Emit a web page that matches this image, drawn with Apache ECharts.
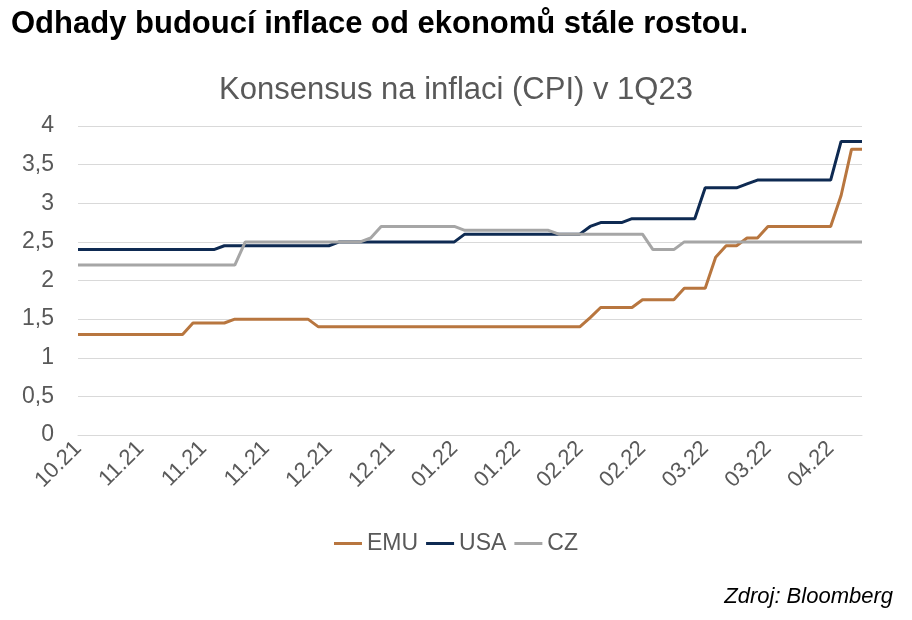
<!DOCTYPE html>
<html><head><meta charset="utf-8">
<script src="https://cdn.jsdelivr.net/npm/echarts@6/dist/echarts.min.js"></script>
<style>html,body{margin:0;padding:0;background:#fff}#c{width:912px;height:620px}</style>
</head><body><div id="c"></div>
<script>
const tickLabels = ["10.21","11.21","11.21","11.21","12.21","12.21","01.22","01.22","02.22","02.22","03.22","03.22","04.22"];
const emu = [1.3,1.3,1.3,1.3,1.3,1.3,1.3,1.3,1.3,1.3,1.3,1.45,1.45,1.45,1.45,1.5,1.5,1.5,1.5,1.5,1.5,1.5,1.5,1.4,1.4,1.4,1.4,1.4,1.4,1.4,1.4,1.4,1.4,1.4,1.4,1.4,1.4,1.4,1.4,1.4,1.4,1.4,1.4,1.4,1.4,1.4,1.4,1.4,1.4,1.52,1.65,1.65,1.65,1.65,1.75,1.75,1.75,1.75,1.9,1.9,1.9,2.3,2.45,2.45,2.55,2.55,2.7,2.7,2.7,2.7,2.7,2.7,2.7,3.1,3.7,3.7];
const usa = [2.4,2.4,2.4,2.4,2.4,2.4,2.4,2.4,2.4,2.4,2.4,2.4,2.4,2.4,2.45,2.45,2.45,2.45,2.45,2.45,2.45,2.45,2.45,2.45,2.45,2.5,2.5,2.5,2.5,2.5,2.5,2.5,2.5,2.5,2.5,2.5,2.5,2.6,2.6,2.6,2.6,2.6,2.6,2.6,2.6,2.6,2.6,2.6,2.6,2.7,2.75,2.75,2.75,2.8,2.8,2.8,2.8,2.8,2.8,2.8,3.2,3.2,3.2,3.2,3.25,3.3,3.3,3.3,3.3,3.3,3.3,3.3,3.3,3.8,3.8,3.8];
const cz = [2.2,2.2,2.2,2.2,2.2,2.2,2.2,2.2,2.2,2.2,2.2,2.2,2.2,2.2,2.2,2.2,2.5,2.5,2.5,2.5,2.5,2.5,2.5,2.5,2.5,2.5,2.5,2.5,2.55,2.7,2.7,2.7,2.7,2.7,2.7,2.7,2.7,2.65,2.65,2.65,2.65,2.65,2.65,2.65,2.65,2.65,2.6,2.6,2.6,2.6,2.6,2.6,2.6,2.6,2.6,2.4,2.4,2.4,2.5,2.5,2.5,2.5,2.5,2.5,2.5,2.5,2.5,2.5,2.5,2.5,2.5,2.5,2.5,2.5,2.5,2.5];
const catLabels = emu.map((_, i) => i % 6 === 0 ? tickLabels[i / 6] : "");
const chart = echarts.init(document.getElementById('c'));
const font = 'Liberation Sans, Arial, sans-serif';
chart.setOption({
  animation: false,
  title: [
    {text: 'Odhady budoucí inflace od ekonomů stále rostou.', left: 6, top: 4,
     textStyle: {fontFamily: font, fontSize: 31, fontWeight: 'bold', color: '#000'}},
    {text: 'Konsensus na inflaci (CPI) v 1Q23', left: 'center', top: 70,
     textStyle: {fontFamily: font, fontSize: 31, fontWeight: 'normal', color: '#595959'}},
    {text: 'Zdroj: Bloomberg', right: 14, top: 581,
     textStyle: {fontFamily: font, fontSize: 22, fontStyle: 'italic', fontWeight: 'normal', color: '#000'}}
  ],
  legend: {bottom: 60, left: 'center', itemWidth: 28, itemHeight: 3, itemGap: 8, icon: 'rect',
    textStyle: {fontFamily: font, fontSize: 23, color: '#595959'}},
  grid: {left: 78, right: 50, top: 126, bottom: 185},
  xAxis: {type: 'category', boundaryGap: false, data: emu.map((_, i) => i),
    axisLine: {lineStyle: {color: '#d9d9d9'}}, axisTick: {show: false},
    axisLabel: {interval: 0, rotate: 45, fontFamily: font, fontSize: 22, color: '#595959', margin: 10,
      formatter: (v, i) => catLabels[i]}},
  yAxis: {type: 'value', min: 0, max: 4, interval: 0.5,
    axisLabel: {fontFamily: font, fontSize: 23, color: '#595959', margin: 24,
      formatter: v => String(v).replace('.', ',')},
    splitLine: {lineStyle: {color: '#d9d9d9'}}},
  series: [
    {name: 'EMU', type: 'line', data: emu, showSymbol: false, lineStyle: {width: 3, color: '#B8763F'}, itemStyle: {color: '#B8763F'}},
    {name: 'USA', type: 'line', data: usa, showSymbol: false, lineStyle: {width: 3, color: '#0E2A52'}, itemStyle: {color: '#0E2A52'}},
    {name: 'CZ', type: 'line', data: cz, showSymbol: false, lineStyle: {width: 3, color: '#A6A6A6'}, itemStyle: {color: '#A6A6A6'}}
  ]
});
</script></body></html>
